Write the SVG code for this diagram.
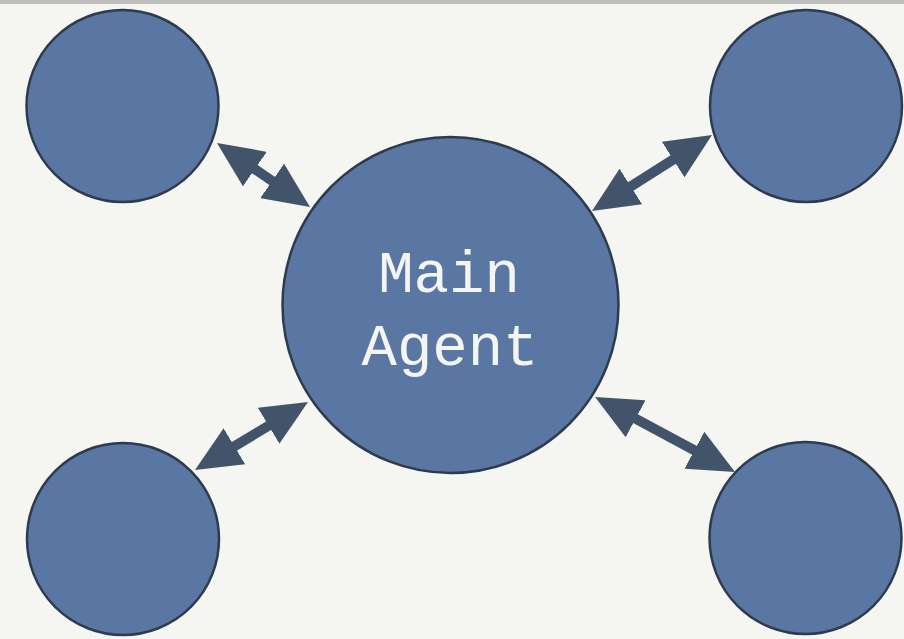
<svg xmlns="http://www.w3.org/2000/svg" width="904" height="639" viewBox="0 0 904 639">
  <style>
    .node { fill: #5a77a3; stroke: #2e3b4d; stroke-width: 2.5; }
    .link { stroke: #415469; stroke-width: 10; fill: none; marker-start: url(#head); marker-end: url(#head); }
    .label { font-family: "Liberation Mono", "DejaVu Sans Mono", monospace; font-size: 59px; fill: #f4f4f1; text-anchor: middle; }
  </style>
  <defs>
    <marker id="head" viewBox="0 0 46 42" refX="16" refY="21" markerWidth="46" markerHeight="42" markerUnits="userSpaceOnUse" orient="auto-start-reverse">
      <path d="M0,0 L46,21 L0,42 z" fill="#415469"/>
    </marker>
  </defs>

  <rect width="904" height="639" fill="#f5f5f1"/>
  <rect width="904" height="4" fill="#bdbdbb"/>

  <g id="connectors">
    <line class="link" x1="241.7" y1="160.0" x2="285.3" y2="190.0"/>
    <line class="link" x1="617.3" y1="195.0" x2="686.7" y2="151.0"/>
    <line class="link" x1="220.7" y1="454.5" x2="282.3" y2="417.5"/>
    <line class="link" x1="621.5" y1="411.2" x2="708.5" y2="457.8"/>
  </g>

  <g id="agent-top-left">
    <circle class="node" cx="122.5" cy="106" r="96"/>
  </g>
  <g id="agent-top-right">
    <circle class="node" cx="806" cy="106" r="96"/>
  </g>
  <g id="agent-bottom-left">
    <circle class="node" cx="123" cy="539" r="96"/>
  </g>
  <g id="agent-bottom-right">
    <circle class="node" cx="805.5" cy="538" r="96"/>
  </g>
  <g id="main-agent">
    <circle class="node" cx="450.5" cy="305" r="168"/>
    <text class="label" x="449" y="292">Main</text>
    <text class="label" x="450" y="365">Agent</text>
  </g>
</svg>
